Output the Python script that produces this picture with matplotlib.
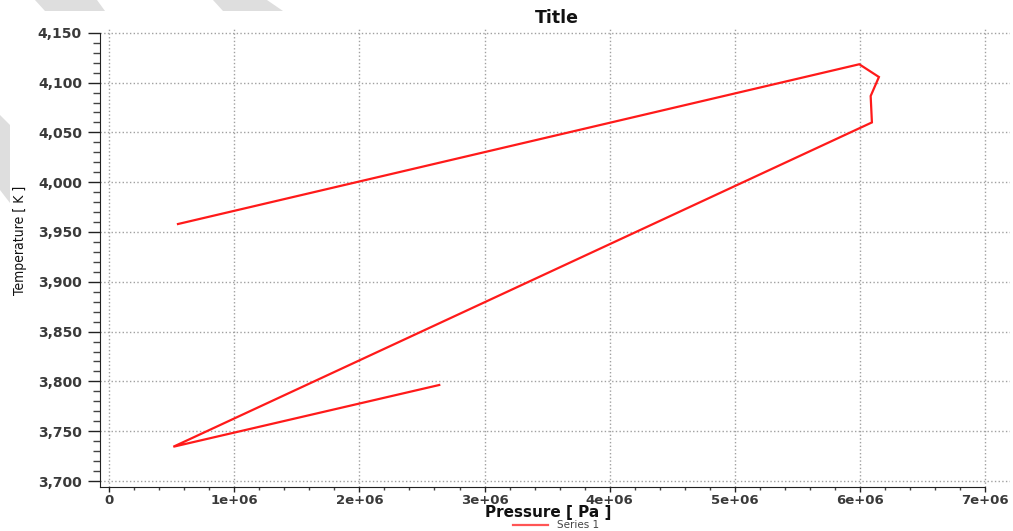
import numpy as np
import matplotlib
matplotlib.use("Agg")
import matplotlib.pyplot as plt
from matplotlib.ticker import MultipleLocator, FuncFormatter
from matplotlib.patches import Polygon

# Series 1 (pressure in Pa, temperature in K)
pressure = [0.551e6, 5.993e6, 6.150e6, 6.084e6, 6.094e6, 0.514e6, 2.638e6]
temperature = [3958, 4118.4, 4105.6, 4086.5, 4060, 3734.4, 3796.4]

x_ticks = [0, 1e6, 2e6, 3e6, 4e6, 5e6, 6e6, 7e6]
y_ticks = [3700, 3750, 3800, 3850, 3900, 3950, 4000, 4050, 4100, 4150]

fig = plt.figure(figsize=(10.13, 5.31), dpi=100)

# grey diagonal bands in the corner (figure pixels, origin top-left)
W, H = 1013, 531
bands = [
    [(35, 0), (97, 0), (105, 11), (45, 11)],
    [(213, 0), (267, 0), (283, 11), (223, 11)],
    [(0, 115), (10, 125), (10, 203), (0, 190)],
]
for b in bands:
    pts = [(x / W, 1 - y / H) for x, y in b]
    fig.patches.append(Polygon(pts, closed=True, transform=fig.transFigure,
                               facecolor="#dedede", edgecolor="none", zorder=0))

ax = fig.add_axes([100 / W, 1 - 487 / H, 910 / W, (487 - 28) / H])

ax.plot(pressure, temperature, color="#ff1a1a", lw=1.6, label="Series 1",
        solid_joinstyle="miter")

ax.set_xlim(-0.0719e6, 7.197e6)
ax.set_ylim(3693.98, 4154.8)

ax.set_xticks(x_ticks)
ax.set_yticks(y_ticks)
ax.xaxis.set_minor_locator(MultipleLocator(2e5))
ax.yaxis.set_minor_locator(MultipleLocator(10))

ax.xaxis.set_major_formatter(FuncFormatter(lambda v, p: "0" if v == 0 else f"{v:.0e}"))
ax.yaxis.set_major_formatter(FuncFormatter(lambda v, p: f"{v:,.0f}"))

for s in ["top", "right"]:
    ax.spines[s].set_visible(False)
ax.spines["left"].set_bounds(3693.98, 4150)
ax.spines["bottom"].set_bounds(-0.0719e6, 7e6)
ax.spines["left"].set_color("#222222")
ax.spines["bottom"].set_color("#222222")

ax.tick_params(which="major", width=1, color="#222222", labelcolor="#3a3a3a")
ax.tick_params(axis="y", which="major", length=8.5, pad=4.5, labelsize=10)
ax.tick_params(axis="y", which="minor", length=5, width=1, color="#444444")
ax.tick_params(axis="x", which="major", length=3.8, pad=1, labelsize=9.5)
ax.tick_params(axis="x", which="minor", length=2.2, width=1, color="#444444")
for lab in ax.get_xticklabels() + ax.get_yticklabels():
    lab.set_fontweight("bold")

ax.grid(True, which="major", linestyle=":", color="#a0a0a0", lw=1)

fig.text(557 / W, 1 - 18 / H, "Title", ha="center", va="center",
         fontsize=12.5, fontweight="bold", color="#111111")
fig.text(548 / W, 1 - 513 / H, "Pressure [ Pa ]", ha="center", va="center",
         fontsize=11, fontweight="bold", color="#111111")
fig.text(20 / W, 1 - 240 / H, "Temperature [ K ]", ha="center", va="center",
         rotation=90, fontsize=10, color="#111111", fontstretch="condensed")

leg = fig.legend(loc="center", bbox_to_anchor=(556 / W, 1 - 525.5 / H),
                 frameon=False, fontsize=7.5, handlelength=3.4, borderpad=0,
                 handletextpad=0.9)
for t in leg.get_texts():
    t.set_color("#444444")
for h in leg.get_lines():
    h.set_color("#ff5555")

fig.savefig("out.png", dpi=100)
